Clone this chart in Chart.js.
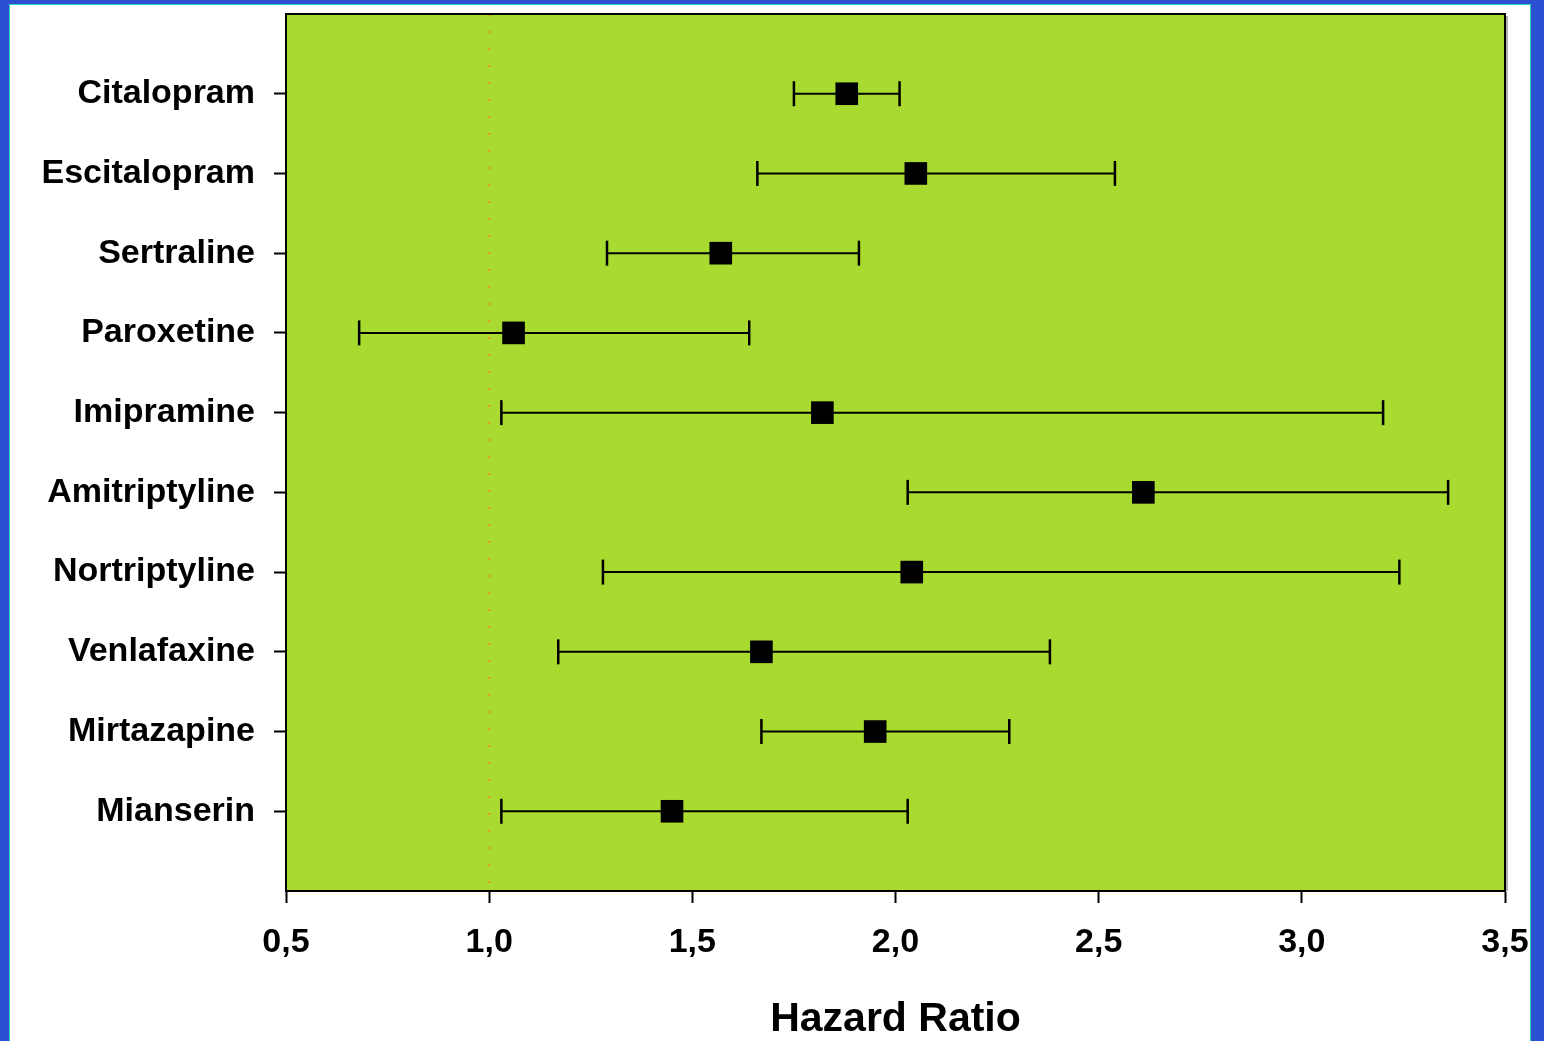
<!DOCTYPE html>
<html>
<head>
<meta charset="utf-8">
<script src="https://cdn.jsdelivr.net/npm/chart.js@4/dist/chart.umd.min.js"></script>
<style>
  html, body { margin: 0; padding: 0; background: #2c50d2; width: 1544px; height: 1041px; overflow: hidden; }
  #frame { position: absolute; left: 10px; top: 5px; width: 1520px; height: 1036px; background: #fff; box-shadow: 0 0 0 1px #22d6b4; }
</style>
</head>
<body>
<div id="frame"><canvas id="forest" width="1520" height="1036"></canvas></div>
<script>
// drugs, top to bottom
const drugs = ['Citalopram', 'Escitalopram', 'Sertraline', 'Paroxetine', 'Imipramine',
  'Amitriptyline', 'Nortriptyline', 'Venlafaxine', 'Mirtazapine', 'Mianserin'];
const hazard = [1.88, 2.05, 1.57, 1.06, 1.82, 2.61, 2.04, 1.67, 1.95, 1.45];
const ciLow  = [1.75, 1.66, 1.29, 0.68, 1.03, 2.03, 1.28, 1.17, 1.67, 1.03];
const ciHigh = [2.01, 2.54, 1.91, 1.64, 3.20, 3.36, 3.24, 2.38, 2.28, 2.03];
const xTickValues = [0.5, 1.0, 1.5, 2.0, 2.5, 3.0, 3.5];
const xTickLabels = ['0,5', '1,0', '1,5', '2,0', '2,5', '3,0', '3,5'];
const refLine = 1.0;

Chart.defaults.font.family = "'Liberation Sans', Arial, sans-serif";
Chart.defaults.font.weight = 'bold';
Chart.defaults.color = '#000';

// error bars: low -> high, then a gap
const barPoints = [];
drugs.forEach((d, i) => {
  barPoints.push({ x: ciLow[i], y: i + 1 });
  barPoints.push({ x: ciHigh[i], y: i + 1 });
  barPoints.push({ x: null, y: null });
});

const plotBox = {
  id: 'plotBox',
  beforeDraw(chart) {
    const { ctx, chartArea: a } = chart;
    ctx.save();
    ctx.fillStyle = '#a8da30';
    ctx.fillRect(a.left, a.top, a.right - a.left, a.bottom - a.top);
    ctx.restore();
  },
  afterDraw(chart) {
    const { ctx, chartArea: a } = chart;
    ctx.save();
    ctx.strokeStyle = '#b0b0b0';
    ctx.lineWidth = 2;
    ctx.beginPath();
    ctx.moveTo(a.right + 2, a.top + 2);
    ctx.lineTo(a.right + 2, a.bottom);
    ctx.stroke();
    ctx.strokeStyle = '#000';
    ctx.lineWidth = 2;
    ctx.strokeRect(a.left, a.top, a.right - a.left, a.bottom - a.top);
    ctx.restore();
  }
};

new Chart(document.getElementById('forest'), {
  type: 'scatter',
  data: {
    datasets: [
      {
        type: 'line',
        data: [{ x: refLine, y: 0 }, { x: refLine, y: drugs.length + 1 }],
        borderColor: '#e2a032',
        borderWidth: 3,
        borderDash: [2, 15],
        pointRadius: 0,
        order: 3
      },
      {
        type: 'line',
        data: barPoints,
        borderColor: '#000',
        borderWidth: 2,
        spanGaps: false,
        pointStyle: 'line',
        rotation: 90,
        pointRadius: 12.5,
        pointBorderWidth: 2.5,
        pointBorderColor: '#000',
        order: 2
      },
      {
        data: drugs.map((d, i) => ({ x: hazard[i], y: i + 1 })),
        pointStyle: 'rect',
        pointRadius: 16,
        backgroundColor: '#000',
        borderWidth: 0,
        order: 1
      }
    ]
  },
  options: {
    responsive: false,
    animation: false,
    devicePixelRatio: 1,
    layout: { autoPadding: false, padding: { top: 9, right: 25, left: 0, bottom: 0 } },
    plugins: { legend: { display: false }, tooltip: { enabled: false } },
    scales: {
      x: {
        type: 'linear',
        min: 0.5, max: 3.5,
        afterBuildTicks: s => { s.ticks = xTickValues.map(v => ({ value: v })); },
        afterFit: s => { s.height = 150; s.paddingLeft = 0; s.paddingRight = 0; },
        ticks: {
          font: { size: 34, weight: 'bold' },
          padding: 19,
          maxRotation: 0,
          callback: (v, i) => xTickLabels[i]
        },
        grid: { drawOnChartArea: false, tickLength: 12, tickWidth: 2, tickColor: '#000' },
        border: { color: '#000', width: 2 },
        title: {
          display: true,
          text: 'Hazard Ratio',
          font: { size: 41, weight: 'bold' },
          padding: { top: 0, bottom: -3 }
        }
      },
      y: {
        type: 'linear',
        reverse: true,
        min: 0, max: drugs.length + 1,
        afterBuildTicks: s => { s.ticks = drugs.map((d, i) => ({ value: i + 1 })); },
        afterFit: s => { s.width = 276; s.paddingTop = 0; s.paddingBottom = 0; },
        ticks: {
          font: { size: 34, weight: 'bold' },
          padding: 19,
          callback: (v) => drugs[v - 1]
        },
        grid: { drawOnChartArea: false, tickLength: 12, tickWidth: 2, tickColor: '#000' },
        border: { color: '#000', width: 2 }
      }
    }
  },
  plugins: [plotBox]
});
</script>
</body>
</html>
